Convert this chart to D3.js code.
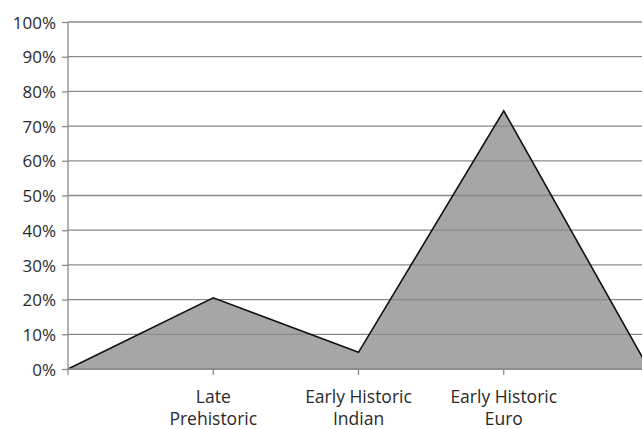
<!DOCTYPE html>
<html>
<head>
<meta charset="utf-8">
<script src="https://cdn.jsdelivr.net/npm/d3@7"></script>
<style>
  html, body { margin: 0; padding: 0; background: #ffffff; }
  svg { display: block; font-family: "Open Sans", sans-serif; }
</style>
</head>
<body>
<svg id="chart" width="642" height="429"></svg>
<script>
// Share of assemblage by period (percent); the end points anchor the area at zero.
const categories = ["", "Late\nPrehistoric", "Early Historic\nIndian", "Early Historic\nEuro", ""];
const values = [0, 20.5, 4.8, 74.4, 0];
const yTicks = [0, 10, 20, 30, 40, 50, 60, 70, 80, 90, 100];

const svg = d3.select("#chart");
const W = 642;
const plotLeft = 68, plotTop = 22, plotBottom = 369;

const x = d3.scalePoint()
  .domain(d3.range(categories.length))
  .range([plotLeft, 649]);

const y = d3.scaleLinear()
  .domain([0, 100])
  .range([plotBottom, plotTop]);

const data = values.map((v, i) => ({ i, v }));

// filled area with outline
const area = d3.area()
  .x(d => x(d.i))
  .y0(y(0))
  .y1(d => y(d.v));

svg.append("path")
  .datum(data)
  .attr("d", area)
  .attr("fill", "#a6a6a6");

// horizontal gridlines, drawn over the fill
svg.append("g")
  .selectAll("line")
  .data(yTicks)
  .join("line")
  .attr("x1", plotLeft)
  .attr("x2", W)
  .attr("y1", d => y(d))
  .attr("y2", d => y(d))
  .attr("stroke", "#8a8a8a")
  .attr("stroke-width", 1.3);

const line = d3.line()
  .x(d => x(d.i))
  .y(d => y(d.v));

svg.append("path")
  .datum(data)
  .attr("d", line)
  .attr("fill", "none")
  .attr("stroke", "#111")
  .attr("stroke-width", 1.6)
  .attr("stroke-linejoin", "miter");

// y axis
const yAxis = d3.axisLeft(y)
  .tickValues(yTicks)
  .tickFormat(d => d + "%")
  .tickSize(6)
  .tickPadding(6);

const gy = svg.append("g")
  .attr("transform", `translate(${plotLeft},0)`)
  .call(yAxis);
gy.select(".domain").remove();
gy.selectAll(".tick line").attr("stroke", "#8a8a8a").attr("stroke-width", 1.3);
gy.selectAll(".tick text")
  .attr("fill", "#2a2a2a")
  .attr("font-size", 17)
  .attr("font-family", "Open Sans, sans-serif")
  .attr("dy", "0.36em");

svg.append("line")
  .attr("x1", plotLeft).attr("x2", plotLeft)
  .attr("y1", plotTop).attr("y2", plotBottom + 6)
  .attr("stroke", "#8a8a8a")
  .attr("stroke-width", 1.3);

// x axis
const gx = svg.append("g")
  .attr("transform", `translate(0,${plotBottom})`);

gx.append("line")
  .attr("x1", plotLeft).attr("x2", W)
  .attr("stroke", "#8a8a8a")
  .attr("stroke-width", 1.3);

const xt = gx.selectAll("g.tick")
  .data(categories.map((c, i) => ({ c, i })).filter(d => d.c !== ""))
  .join("g")
  .attr("class", "tick")
  .attr("transform", d => `translate(${x(d.i)},0)`);

xt.append("line")
  .attr("y1", 0).attr("y2", 6)
  .attr("stroke", "#8a8a8a")
  .attr("stroke-width", 1.3);

xt.append("text")
  .attr("text-anchor", "middle")
  .attr("fill", "#2a2a2a")
  .attr("font-size", 17.5)
  .selectAll("tspan")
  .data(d => d.c.split("\n"))
  .join("tspan")
  .attr("x", 0)
  .attr("y", (d, k) => 34 + k * 22)
  .text(d => d);
</script>
</body>
</html>
